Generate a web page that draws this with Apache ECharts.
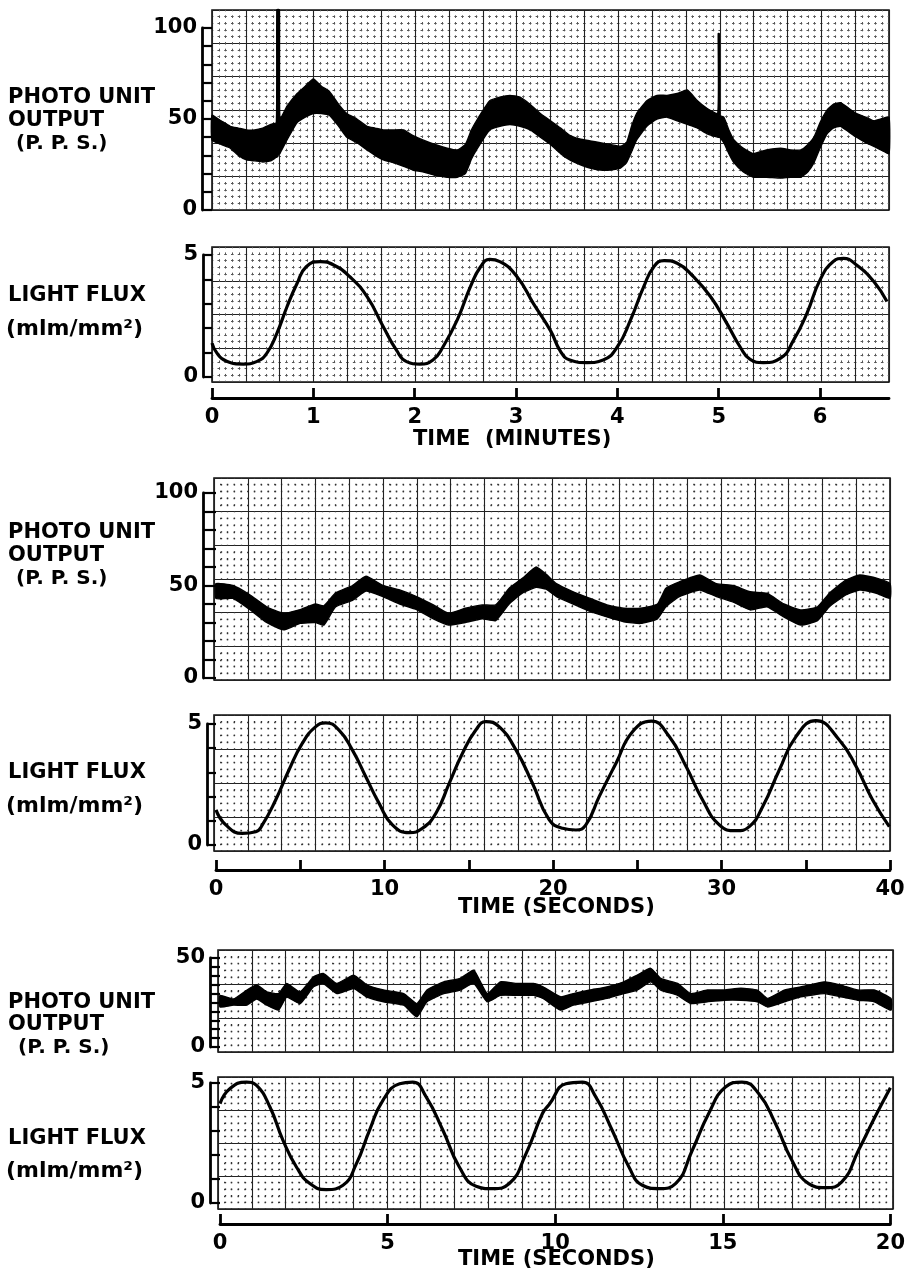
<!DOCTYPE html>
<html><head><meta charset="utf-8">
<script src="https://cdn.jsdelivr.net/npm/echarts@6/dist/echarts.min.js"></script>
<style>html,body{margin:0;padding:0;background:#fff}#c{width:908px;height:1275px}</style>
</head><body><div id="c"></div>
<script>
// ---------- DATA ----------
// Panel 1: photo unit output (p.p.s.) vs time (minutes) – noisy trace envelope
const P1_TIME = [0,0.09,0.18,0.26,0.34,0.42,0.5,0.58,0.635,0.64,0.665,0.67,0.74,0.84,0.92,1.0,1.08,1.16,1.25,1.33,1.43,1.53,1.61,1.69,1.79,1.89,1.98,2.08,2.2,2.32,2.42,2.5,2.56,2.62,2.74,2.84,2.94,3.04,3.14,3.24,3.34,3.44,3.53,3.63,3.73,3.83,3.93,4.03,4.09,4.14,4.19,4.29,4.39,4.49,4.59,4.69,4.79,4.88,4.99,4.995,5.005,5.01,5.05,5.1,5.15,5.24,5.34,5.47,5.61,5.71,5.81,5.88,5.94,6.0,6.07,6.13,6.2,6.28,6.36,6.45,6.53,6.6,6.68];
const P1_LOW  = [38.5,36,34,30,27.5,27,26.4,27,29,29,31,31,38.5,48,51,53,53,52,46,40,37,33,30,27.5,26,24,22,21,19,18,18,20,28,34,44,46,47,46,44,40,36,31,27.5,25,23,22,22,23,26,32,38.5,46,50,51,49,47,45,42,40,40,40,40,37,31,26,21,18,18,17.5,18,18,21,26,34,42,45,46,43,40,37,35,33,31];
const P1_HIGH = [52,49,46,45,44,44,45,47,48,110,110,50,57,64,68,72,68,65,58,53,50,46,45,44,44,44,41,38.5,36,34,33,36,44,50,60,62,63,62,58,53,49,45,41,39,38,37,36,35,37,46,53,60,63,63,64,66,60,56,53,97,97,52,51,44,38.5,34,31,33,34,33,33,36,40,48,55,58,59,56,53,51,49,50,51];

// Panel 2: light flux (mlm/mm2) vs time (minutes)
const P2_TIME = [0,0.05,0.145,0.31,0.44,0.54,0.64,0.74,0.84,0.93,1.07,1.2,1.36,1.53,1.69,1.82,1.92,2.05,2.18,2.28,2.42,2.55,2.65,2.74,2.84,3.01,3.17,3.34,3.44,3.53,3.7,3.86,4.0,4.13,4.26,4.36,4.46,4.59,4.75,4.92,5.08,5.21,5.31,5.44,5.61,5.74,5.87,6.0,6.13,6.23,6.36,6.53,6.66];
const P2_FLUX = [1.39,0.97,0.65,0.53,0.63,0.97,1.79,2.88,3.84,4.52,4.73,4.59,4.11,3.29,2.06,1.1,0.63,0.53,0.7,1.24,2.34,3.7,4.52,4.82,4.73,4.11,3.02,1.9,1.04,0.7,0.59,0.7,1.24,2.34,3.7,4.52,4.77,4.66,4.11,3.29,2.2,1.24,0.72,0.59,0.77,1.52,2.61,3.98,4.73,4.86,4.59,3.91,3.09];

// Panel 3: photo unit output vs time (seconds, 0-40)
const P3_TIME = [0,1,2,3,4,5,5.9,6.4,7.1,8.1,8.9,9.9,10.9,11.9,12.9,13.8,14.8,15.8,16.6,17.4,18.2,19.0,19.6,20.2,21.2,22.2,23.2,24.2,25.2,26.2,26.7,27.5,28.7,29.7,30.7,31.7,32.7,33.7,34.7,35.7,36.4,37.4,38.2,39.2,40];
const P3_LOW  = [43,43,37,30,26,29.5,30,28.6,38.5,42,47,44,40,37,32,28.6,30,32,31,40,46,49,48,44,40,36,33,30.4,29.5,32,38.5,44,47.6,44,41,36.8,38.5,33,28.6,31,38.5,45,47.6,45.8,43];
const P3_HIGH = [51,50,45,38.5,35,37,40,39,46,50,55,50,47.6,44,39.5,35,37.7,39.5,39.5,48.5,54,60,56,51,46.6,43,39.5,37.7,37.7,40,48.5,52,55.7,51,50,46.6,45.8,40,36.8,38.5,45.8,53,55.7,54,51];

// Panel 4: light flux vs time (seconds, 0-40)
const P4_TIME = [0,0.58,1.56,2.36,2.75,3.54,4.33,5.12,5.92,6.51,7.3,8.09,8.89,9.68,10.47,11.46,12.25,13.05,13.84,14.63,15.42,16.02,16.8,17.8,18.78,19.77,20.57,21.36,21.95,22.74,23.74,24.72,25.85,26.9,27.9,28.88,29.87,30.86,31.65,32.44,33.43,34.42,35.6,36.99,37.99,38.97,39.96];
const P4_FLUX = [1.45,0.83,0.48,0.55,0.83,1.86,3.1,4.2,4.89,5.05,4.75,3.93,2.82,1.72,0.83,0.51,0.69,1.31,2.55,3.79,4.75,5.1,4.89,3.93,2.55,1.05,0.69,0.62,0.83,2.0,3.38,4.68,5.12,4.48,3.24,1.86,0.83,0.59,0.76,1.58,3.1,4.48,5.14,4.34,3.24,1.86,0.76];

// Panel 5: photo unit output vs time (seconds, 0-20)
const P5_TIME = [0,0.4,0.8,1.09,1.39,1.74,1.98,2.38,2.78,3.07,3.47,3.97,4.37,4.86,5.46,5.85,6.15,6.65,7.14,7.54,7.94,8.33,8.83,9.32,9.6,10.12,10.5,11.0,11.5,12.0,12.4,12.8,13.1,13.6,13.99,14.48,14.98,15.48,15.97,16.27,16.77,17.26,17.96,18.45,18.95,19.44,19.94];
const P5_LOW  = [22.5,23.5,23.5,27,23.5,20.7,28,24.4,33.8,35.7,30,32.9,28,25.4,23.5,16.9,25.4,30,32,35.7,25.4,29,29,29,27.3,20.7,23.5,25.4,27.3,30,32,36.6,32,29,24.4,25.4,26.3,26.3,25.4,22.5,25.4,28.2,30,28.2,26.3,25.4,20.7];
const P5_HIGH = [29,27,32,34.8,31,30,35.7,31,39.4,41.3,35.7,40.4,34.8,32,30,24.4,32,36.6,38.5,43.2,30,36.6,35.7,35.7,33.8,28.2,30,32,33.8,36.6,40.4,44.2,38.5,35.7,30,32,32,33,32,27.3,32,33.8,36.6,34.8,32,32,27.3];

// Panel 6: light flux vs time (seconds, 0-20)
const P6_TIME = [0,0.3,0.79,1.09,1.49,1.88,2.28,2.68,3.17,3.67,4.07,4.46,4.86,5.36,5.75,6.15,6.65,7.14,7.64,8.13,8.63,9.13,9.62,9.82,10.32,10.81,11.21,11.7,12.2,12.6,13.1,13.59,14.09,14.58,15.08,15.57,16.07,16.57,17.06,17.56,18.06,18.55,19.05,19.54,20.0];
const P6_FLUX = [4.14,4.77,5.04,4.9,4.0,2.61,1.5,0.81,0.56,0.74,1.64,3.03,4.28,4.97,5.04,4.42,3.03,1.5,0.7,0.6,0.81,2.06,3.73,4.1,4.97,5.04,4.42,3.03,1.5,0.74,0.6,0.81,2.2,3.73,4.83,5.04,4.56,3.31,1.78,0.81,0.64,0.88,2.2,3.58,4.8];

// Tick values / labels
const PPS100_TICKS  = [0,10,20,30,40,50,60,70,80,90,100];
const PPS100_LABELS = [0,50,100];
const PPS50_TICKS   = [0,5,10,15,20,25,30,35,40,45,50];
const PPS50_LABELS  = [0,50];
const FLUX_TICKS    = [0,1,2,3,4,5];
const FLUX_LABELS   = [0,5];
const MIN_TICKS     = [0,1,2,3,4,5,6];
const MIN_LABELS    = [0,1,2,3,4,5,6];
const SEC40_TICKS   = [0,5,10,15,20,25,30,35,40];
const SEC40_LABELS  = [0,10,20,30,40];
const SEC20_TICKS   = [0,5,10,15,20];
const SEC20_LABELS  = [0,5,10,15,20];

// ---------- LAYOUT ----------
const FONT = 'DejaVu Sans';
const panels = [
  {kind:'pps',  paper:[212,10,677,200], rows:6, data:[212,28,677,182], xMax:6.68, yMax:100, yOff:10, yT:PPS100_TICKS, yL:PPS100_LABELS, T:P1_TIME, L:P1_LOW, H:P1_HIGH},
  {kind:'flux', paper:[212,247,677,135], rows:4, data:[212,255,677,122], xMax:6.68, yMax:5, yOff:9, yT:FLUX_TICKS, yL:FLUX_LABELS, T:P2_TIME, V:P2_FLUX, xOff:21, xT:MIN_TICKS, xL:MIN_LABELS},
  {kind:'pps',  paper:[214,478,676,202], rows:6, data:[216,493,674,185], xMax:40, yMax:100, yOff:13, yT:PPS100_TICKS, yL:PPS100_LABELS, T:P3_TIME, L:P3_LOW, H:P3_HIGH},
  {kind:'flux', paper:[214,715,676,136], rows:4, data:[216,724,674,121], xMax:40, yMax:5, yOff:9, yT:FLUX_TICKS, yL:FLUX_LABELS, T:P4_TIME, V:P4_FLUX, xOff:25, xT:SEC40_TICKS, xL:SEC40_LABELS},
  {kind:'pps',  paper:[218,950,675,102], rows:3, data:[220,958,673,89], xMax:20, yMax:50, yOff:10, yT:PPS50_TICKS, yL:PPS50_LABELS, T:P5_TIME, L:P5_LOW, H:P5_HIGH},
  {kind:'flux', paper:[218,1077,675,132], rows:4, data:[220,1083,673,120], xMax:20, yMax:5, yOff:10, yT:FLUX_TICKS, yL:FLUX_LABELS, T:P6_TIME, V:P6_FLUX, xOff:21, xT:SEC20_TICKS, xL:SEC20_LABELS}
];

const grid = [], xAxis = [], yAxis = [], series = [];
const labelStyle = {color:'#000', fontFamily:FONT, fontWeight:'bold', fontSize:21};

panels.forEach((p, k) => {
  const pi = 2*k, di = 2*k+1;
  const [pl, pt, pw, ph] = p.paper;
  const [dl, dt, dw, dh] = p.data;
  const xSp = pw/100, ySp = ph/(p.rows*5);
  const dense = k < 2;
  grid.push({left:pl, top:pt, width:pw, height:ph, show:true, borderColor:'#111', borderWidth:1.6, backgroundColor:'transparent'});
  grid.push({left:dl, top:dt, width:dw, height:dh, show:false});
  // paper (chart-paper ruling)
  xAxis.push({gridIndex:pi, type:'value', min:0, max:20, interval:1, silent:true,
    axisLine:{show:false}, axisTick:{show:false}, axisLabel:{show:false},
    splitLine:{show:true, lineStyle:{color:'#222', width:1.1}},
    minorTick:{show:false, splitNumber:5},
    minorSplitLine:{show:true, lineStyle:{color: dense ? '#555' : '#333', width: dense ? 1 : 1.3, type: dense ? [2.6, ySp-2.6] : [1.4, ySp-1.4], dashOffset: dense ? 1.3 : 0.7}}});
  yAxis.push({gridIndex:pi, type:'value', min:0, max:p.rows, interval:1, silent:true,
    axisLine:{show:false}, axisTick:{show:false}, axisLabel:{show:false},
    splitLine:{show:true, lineStyle:{color:'#222', width:1.1}},
    minorTick:{show:false, splitNumber:5},
    minorSplitLine:{show:true, lineStyle:{color: dense ? '#555' : '#333', width: dense ? 1 : 1.3, type: dense ? [2.6, xSp-2.6] : [1.4, xSp-1.4], dashOffset: dense ? 1.3 : 0.7}}});
  // data axes
  if (p.kind === 'flux') {
    xAxis.push({gridIndex:di, type:'value', min:0, max:p.xMax, position:'bottom', offset:p.xOff,
      axisLine:{show:true, onZero:false, lineStyle:{color:'#000', width:2.8}},
      axisTick:{show:true, inside:true, length:10, customValues:p.xT, lineStyle:{color:'#000', width:2.8}},
      axisLabel:Object.assign({customValues:p.xL, margin:9}, labelStyle),
      splitLine:{show:false}});
  } else {
    xAxis.push({gridIndex:di, type:'value', min:0, max:p.xMax, show:false});
  }
  yAxis.push({gridIndex:di, type:'value', min:0, max:p.yMax, offset:p.yOff,
    axisLine:{show:true, onZero:false, lineStyle:{color:'#000', width:2.8}},
    axisTick:{show:true, inside:true, length:p.yOff, customValues:p.yT, lineStyle:{color:'#000', width:2.2}},
    axisLabel:Object.assign({customValues:p.yL, margin:5}, labelStyle),
    splitLine:{show:false}});
  if (p.kind === 'pps') {
    const T = p.T, L = p.L, H = p.H;
    series.push({type:'custom', coordinateSystem:'cartesian2d', xAxisIndex:di, yAxisIndex:di, clip:false, silent:true, z:5,
      data:[[T[0], L[0]]],
      renderItem: function (params, api) {
        const pts = [];
        for (let i = 0; i < T.length; i++) pts.push(api.coord([T[i], H[i]]));
        for (let i = T.length-1; i >= 0; i--) pts.push(api.coord([T[i], L[i]]));
        return {type:'polygon', shape:{points:pts, smooth:0.15}, style:{fill:'#000', stroke:'#000', lineWidth:1.4}};
      }});
  } else {
    series.push({type:'line', xAxisIndex:di, yAxisIndex:di, clip:false, silent:true, z:5,
      data:p.T.map((t,i)=>[t, p.V[i]]), smooth:0.5, showSymbol:false,
      lineStyle:{color:'#000', width:3.2}});
  }
});

function txt(x, y, s, size) {
  size = size || 21;
  return {type:'text', left:x, top:y - size/2 - 2, style:{text:s, fill:'#000', font:'bold ' + size + 'px "' + FONT + '"'}};
}
const graphic = [
  txt(8,100,'PHOTO UNIT'), txt(8,123,'OUTPUT'), txt(16,146,'(P. P. S.)',20),
  txt(8,298,'LIGHT FLUX'), txt(6,331,'(mlm/mm²)',22),
  txt(413,442,'TIME  (MINUTES)'),
  txt(8,535,'PHOTO UNIT'), txt(8,558,'OUTPUT'), txt(16,581,'(P. P. S.)',20),
  txt(8,775,'LIGHT FLUX'), txt(6,808,'(mlm/mm²)',22),
  txt(458,910,'TIME (SECONDS)'),
  txt(8,1005,'PHOTO UNIT'), txt(8,1027,'OUTPUT'), txt(18,1050,'(P. P. S.)',20),
  txt(8,1141,'LIGHT FLUX'), txt(6,1173,'(mlm/mm²)',22),
  txt(458,1262,'TIME (SECONDS)')
];

const chart = echarts.init(document.getElementById('c'), null, {renderer:'canvas'});
chart.setOption({animation:false, backgroundColor:'#fff', grid, xAxis, yAxis, series, graphic});
</script></body></html>
